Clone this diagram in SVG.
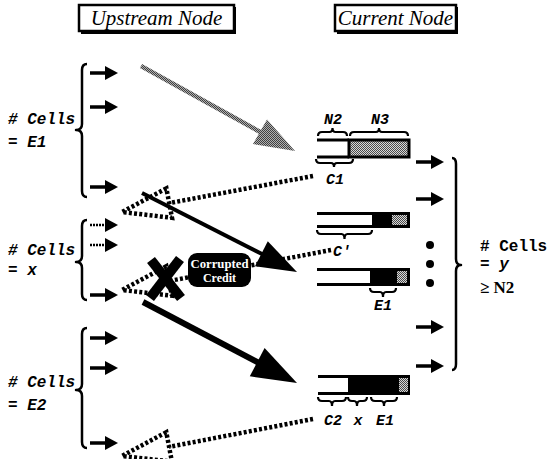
<svg xmlns="http://www.w3.org/2000/svg" xmlns:xlink="http://www.w3.org/1999/xlink" width="547" height="459" viewBox="0 0 547 459">
<style>
.title{font-family:"Liberation Serif",serif;font-style:italic;font-size:21px;fill:#000}
.mono{font-family:"Liberation Mono",monospace;font-weight:bold;font-style:italic;font-size:16px;fill:#000}
.monor{font-family:"Liberation Mono",monospace;font-weight:bold;font-size:16px;fill:#000}
.lab{font-family:"Liberation Mono",monospace;font-weight:bold;font-style:italic;font-size:15px;fill:#000;text-anchor:middle}
.ser{font-family:"Liberation Serif",serif;font-weight:bold;font-size:17px;fill:#000}
.brace{fill:none;stroke:#000;stroke-width:2.5;stroke-linejoin:round}
.sb{fill:none;stroke:#000;stroke-width:2.2}
.bl{stroke:#000;stroke-width:3;fill:none}
.credit{fill:none;stroke:#000;stroke-width:4.5;stroke-dasharray:3 2.2}
.cc{font-family:"Liberation Serif",serif;font-weight:bold;font-size:12px;fill:#fff;text-anchor:middle}
</style>
<defs>
<pattern id="stip" width="2" height="2" patternUnits="userSpaceOnUse">
<rect width="2" height="2" fill="#d8d8d8"/>
<rect width="1" height="1" fill="#4a4a4a"/>
<rect x="1" y="1" width="1" height="1" fill="#4a4a4a"/>
</pattern>
<pattern id="stip2" width="2" height="2" patternUnits="userSpaceOnUse">
<rect width="2" height="2" fill="#b0b0b0"/>
<rect width="1" height="1" fill="#404040"/>
<rect x="1" y="1" width="1" height="1" fill="#404040"/>
</pattern>
<g id="ra"><line x1="0" y1="0" x2="17" y2="0" stroke="#000" stroke-width="3.5"/><path d="M15,-7 L28,0 L15,7 Z" fill="#000"/></g>
<g id="rd"><line x1="0" y1="0" x2="17" y2="0" stroke="#000" stroke-width="2.5" stroke-dasharray="2 1"/><path d="M15,-7 L28,0 L15,7 Z" fill="#000"/></g>
</defs>

<g id="title-upstream">
<rect x="79" y="5" width="155" height="26" fill="#fff" stroke="#000" stroke-width="2.5"/>
<path d="M235,7 V33 H81" fill="none" stroke="#000" stroke-width="2"/>
<text class="title" x="156.5" y="25" text-anchor="middle">Upstream Node</text>
</g>
<g id="title-current">
<rect x="335" y="5" width="121" height="26" fill="#fff" stroke="#000" stroke-width="2.5"/>
<path d="M457,7 V33 H337" fill="none" stroke="#000" stroke-width="2"/>
<text class="title" x="395.5" y="25" text-anchor="middle" font-size="19">Current Node</text>
</g>

<g id="upstream-e1">
<path class="brace" d="M87,64 Q82,64 82,70 L82,124 Q82,130 76,130 Q82,130 82,136 L82,191 Q82,197 87,197"/>
<use xlink:href="#ra" x="90" y="73"/>
<use xlink:href="#ra" x="90" y="107"/>
<use xlink:href="#ra" x="90" y="187"/>
<text class="mono" x="8" y="124"># Cells</text>
<text class="mono" x="8" y="147">= E1</text>
</g>

<g id="upstream-x">
<path class="brace" d="M87,220 Q82,220 82,226 L82,256 Q82,262 76,262 Q82,262 82,268 L82,294 Q82,300 87,300"/>
<use xlink:href="#rd" x="90" y="225"/>
<use xlink:href="#rd" x="90" y="245"/>
<use xlink:href="#ra" x="90" y="295"/>
<text class="mono" x="8" y="255"># Cells</text>
<text class="mono" x="8" y="275">= x</text>
</g>

<g id="upstream-e2">
<path class="brace" d="M87,328 Q82,328 82,334 L82,384 Q82,390 76,390 Q82,390 82,396 L82,442 Q82,448 87,448"/>
<use xlink:href="#ra" x="90" y="338"/>
<use xlink:href="#ra" x="90" y="368"/>
<use xlink:href="#ra" x="90" y="443"/>
<text class="mono" x="8" y="387"># Cells</text>
<text class="mono" x="8" y="410">= E2</text>
</g>

<g id="bar1">
<line class="bl" x1="317" y1="140" x2="349" y2="140"/>
<line class="bl" x1="317" y1="157" x2="349" y2="157"/>
<rect x="349" y="140" width="60" height="17" fill="url(#stip)" stroke="#000" stroke-width="3"/>
<path class="sb" d="M318,136 Q318,132 322,132 L329.5,132 Q332.5,132 332.5,128 Q332.5,132 335.5,132 L343,132 Q347,132 347,136"/>
<path class="sb" d="M350,136 Q350,132 354,132 L376,132 Q379,132 379,128 Q379,132 382,132 L404,132 Q408,132 408,136"/>
<text class="lab" x="333" y="124">N2</text>
<text class="lab" x="380" y="124">N3</text>
<path class="sb" d="M316,159 Q316,163 320,163 L331,163 Q334,163 334,167 Q334,163 337,163 L349,163 Q353,163 353,159"/>
<text class="lab" x="335" y="184">C1</text>
</g>

<g id="bar2">
<line class="bl" x1="317" y1="213.5" x2="372" y2="213.5"/>
<line class="bl" x1="317" y1="226.5" x2="372" y2="226.5"/>
<rect x="372" y="212" width="38" height="16" fill="#000"/>
<rect x="392" y="215" width="15" height="10" fill="url(#stip)"/>
<path class="sb" d="M317,230 Q317,234 321,234 L341.5,234 Q344.5,234 344.5,239 Q344.5,234 347.5,234 L368,234 Q372,234 372,230"/>
<text class="lab" x="342" y="256">C'</text>
</g>

<g id="bar3">
<line class="bl" x1="317" y1="269.5" x2="370" y2="269.5"/>
<line class="bl" x1="317" y1="284.5" x2="370" y2="284.5"/>
<rect x="370" y="268" width="40" height="18" fill="#000"/>
<rect x="397" y="271" width="10" height="12" fill="url(#stip)"/>
<path class="sb" d="M370,288 Q370,292 374,292 L380,292 Q383,292 383,297 Q383,292 386,292 L392,292 Q396,292 396,288"/>
<text class="lab" x="383" y="310">E1</text>
</g>

<g id="bar4">
<line class="bl" x1="318" y1="376.5" x2="348" y2="376.5"/>
<line class="bl" x1="318" y1="393.5" x2="348" y2="393.5"/>
<rect x="348" y="375" width="62" height="20" fill="#000"/>
<rect x="399" y="378" width="9" height="14" fill="url(#stip)"/>
<path class="sb" d="M318,397 Q318,401 322,401 L329,401 Q332,401 332,406 Q332,401 335,401 L342,401 Q346,401 346,397"/>
<path class="sb" d="M348,397 Q348,401 352,401 L354,401 Q357,401 357,406 Q357,401 360,401 L363,401 Q367,401 367,397"/>
<path class="sb" d="M371,397 Q371,401 375,401 L381,401 Q384,401 384,406 Q384,401 387,401 L393,401 Q397,401 397,397"/>
<text class="lab" x="333" y="425">C2</text>
<text class="lab" x="358" y="425">x</text>
<text class="lab" x="385" y="425">E1</text>
</g>

<g id="downstream">
<use xlink:href="#ra" x="416" y="162"/>
<use xlink:href="#ra" x="416" y="199"/>
<use xlink:href="#ra" x="416" y="327"/>
<use xlink:href="#ra" x="416" y="366"/>
<circle cx="430" cy="245" r="4"/>
<circle cx="430" cy="264" r="4"/>
<circle cx="430" cy="283" r="4"/>
<path class="brace" d="M452,158 Q456,158 456,164 L456,259 Q456,265 461,265 Q456,265 456,271 L456,364 Q456,370 452,370"/>
<text class="monor" x="480" y="251"># Cells</text>
<text class="monor" x="480" y="269">= <tspan font-style="italic">y</tspan></text>
<text class="ser" x="480" y="293">≥ N2</text>
</g>

<g id="connectors">
<line x1="141" y1="66" x2="262" y2="133" stroke="url(#stip2)" stroke-width="4.5"/>
<path d="M295,151 L253,144 L267,119.5 Z" fill="url(#stip2)"/>
<line x1="142" y1="193" x2="264" y2="255" stroke="#000" stroke-width="4"/>
<path d="M297,272 L255,266.3 L267.8,241.3 Z" fill="#000"/>
<line x1="143" y1="302" x2="260" y2="363.5" stroke="#000" stroke-width="6"/>
<path d="M297,383 L249.8,376.3 L264.6,347.9 Z" fill="#000"/>
<path class="credit" d="M313,176 L169.2,203.1"/>
<path class="credit" d="M166.4,188.4 L122,212 L172,217.8 Z"/>
<path class="credit" d="M331,250 L169.1,281"/>
<path class="credit" d="M166.3,266.3 L122,290 L171.9,295.7 Z"/>
<path class="credit" d="M313,419 L169.1,446.9"/>
<path class="credit" d="M166.3,432.2 L122,456 L171.9,461.6 Z"/>
</g>

<g id="corrupted-credit">
<line x1="151" y1="260" x2="181" y2="298" stroke="#000" stroke-width="10"/>
<line x1="180" y1="259" x2="150" y2="298" stroke="#000" stroke-width="10"/>
<rect x="188" y="253" width="63" height="34" rx="9" fill="#000"/>
<text class="cc" x="219.5" y="268" textLength="58" lengthAdjust="spacingAndGlyphs">Corrupted</text>
<text class="cc" x="219.5" y="282">Credit</text>
</g>
</svg>
